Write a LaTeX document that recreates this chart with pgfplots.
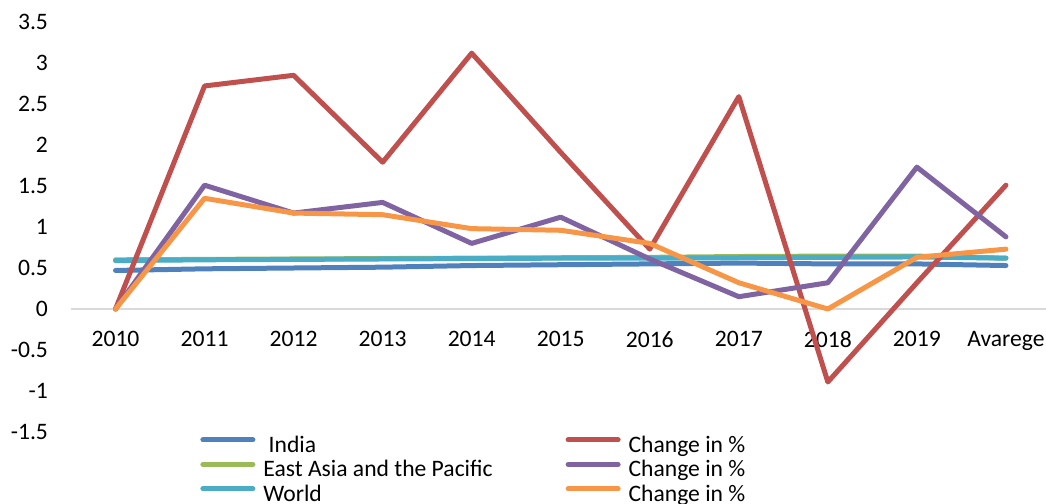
\documentclass[border=0pt]{standalone}
\usepackage{pgfplots}
\pgfplotsset{compat=1.18}
\usepackage{fontspec}
\setmainfont{Carlito}
\definecolor{cIndia}{HTML}{4F81BD}
\definecolor{cRed}{HTML}{C0504D}
\definecolor{cEAP}{HTML}{9BBB59}
\definecolor{cPurple}{HTML}{8064A2}
\definecolor{cWorld}{HTML}{4BACC6}
\definecolor{cOrange}{HTML}{F79646}
\definecolor{zeroline}{HTML}{D9D9D9}
\begin{document}
\begin{tikzpicture}
\useasboundingbox (0,0) rectangle (523pt,252pt);
\begin{axis}[
  at={(35.5pt,36pt)}, anchor=south west,
  scale only axis, width=487.5pt, height=205pt,
  xmin=-0.5, xmax=10.45, ymin=-1.5, ymax=3.5,
  axis x line=middle, axis y line=left,
  x axis line style={-, draw=zeroline, line width=0.75pt},
  y axis line style={draw=none},
  xtick={0,...,10},
  xticklabels={2010,2011,2012,2013,2014,2015,2016,2017,2018,2019,Avarege},
  ytick={-1.5,-1,...,3.5},
  major tick length=0pt,
  tick style={draw=none},
  /pgf/number format/assume math mode=true,
  ticklabel style={font=\fontsize{11.8}{14}\selectfont, text=black},
  xticklabel style={anchor=north, yshift=-7.8pt},
  yticklabel style={anchor=east, xshift=-8pt},
  legend style={draw=none, fill=none, at={(0.1323,-0.005)}, anchor=north west,
    inner xsep=0pt, inner ysep=0pt, row sep=0pt, column sep=0pt,
    font=\fontsize{11.8}{14}\selectfont,
    nodes={inner xsep=0pt, inner ysep=0pt, text height=8.8pt, text depth=3.45pt, text=black},
    /tikz/every odd column/.append style={column sep=4pt},
    /tikz/every even column/.append style={column sep=36.5pt}},
  legend cell align=left,
  legend columns=2,
  legend image code/.code={\draw[#1, line cap=round] (0pt,3.4pt) -- (25pt,3.4pt);},
  every axis plot/.append style={line width=2.5pt, line join=round, line cap=round},
]
\addlegendimage{cIndia, line width=2.5pt}\addlegendentry{\ India}
\addlegendimage{cRed, line width=2.5pt}\addlegendentry{Change in \%}
\addlegendimage{cEAP, line width=2.5pt}\addlegendentry{East Asia and the Pacific}
\addlegendimage{cPurple, line width=2.5pt}\addlegendentry{Change in \%}
\addlegendimage{cWorld, line width=2.5pt}\addlegendentry{World}
\addlegendimage{cOrange, line width=2.5pt}\addlegendentry{Change in \%}

\addplot[cIndia, forget plot] coordinates {(0,0.47)(1,0.49)(2,0.50)(3,0.51)(4,0.53)(5,0.54)(6,0.55)(7,0.56)(8,0.55)(9,0.55)(10,0.53)};
\addplot[cEAP, forget plot] coordinates {(0,0.60)(1,0.605)(2,0.61)(3,0.615)(4,0.62)(5,0.625)(6,0.63)(7,0.64)(8,0.645)(9,0.645)(10,0.62)};
\addplot[cWorld, forget plot] coordinates {(0,0.59)(1,0.60)(2,0.605)(3,0.61)(4,0.615)(5,0.62)(6,0.62)(7,0.625)(8,0.63)(9,0.635)(10,0.62)};
\addplot[cRed, forget plot] coordinates {(0,0)(1,2.72)(2,2.85)(3,1.79)(4,3.12)(5,1.91)(6,0.73)(7,2.59)(8,-0.89)(9,0.32)(10,1.51)};
\addplot[cPurple, forget plot] coordinates {(0,0)(1,1.51)(2,1.17)(3,1.30)(4,0.80)(5,1.12)(6,0.61)(7,0.15)(8,0.32)(9,1.73)(10,0.88)};
\addplot[cOrange, forget plot] coordinates {(0,0)(1,1.35)(2,1.17)(3,1.15)(4,0.98)(5,0.96)(6,0.80)(7,0.32)(8,0)(9,0.63)(10,0.73)};
\end{axis}
\end{tikzpicture}
\end{document}
